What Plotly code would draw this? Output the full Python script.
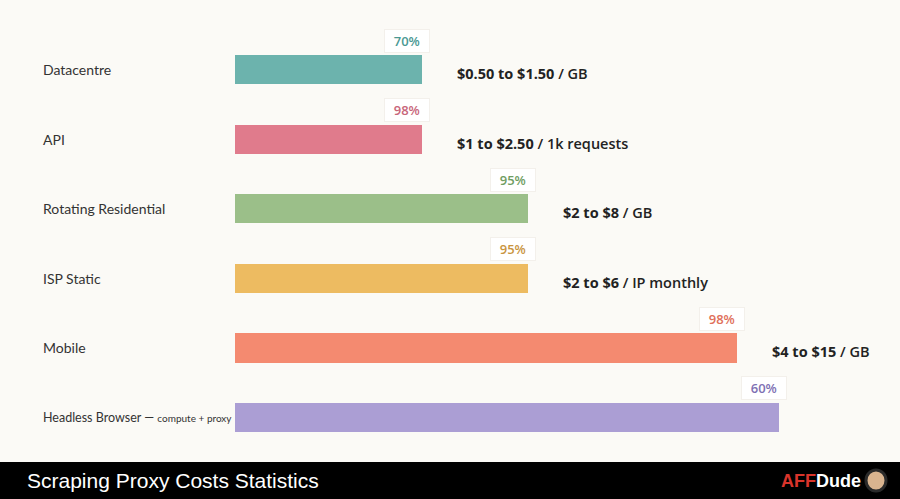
import plotly.graph_objects as go

categories = ["Datacentre", "API", "Rotating Residential", "ISP Static", "Mobile", "Headless Browser"]
label_html = ["Datacentre", "API", "Rotating Residential", "ISP Static", "Mobile",
              "<span style='font-size:12.5px'>Headless Browser — </span><span style='font-size:10px'>compute + proxy</span>"]
bar_values = [1.87, 1.87, 2.93, 2.93, 5.02, 5.44]
percents = ["70%", "98%", "95%", "95%", "98%", "60%"]
cost_main = ["$0.50 to $1.50", "$1 to $2.50", "$2 to $8", "$2 to $6", "$4 to $15", ""]
cost_unit = ["/ GB", "/ 1k requests", "/ GB", "/ IP monthly", "/ GB", ""]
bar_colors = ["#6cb3ad", "#e07b8c", "#9bbf89", "#edbb61", "#f48a70", "#ab9ed4"]
pct_colors = ["#4a9893", "#c8667a", "#6f9d62", "#c9953f", "#e0705a", "#7e70b3"]
title = "Scraping Proxy Costs Statistics"

W, H = 900, 499
ML, MB = 235, 37
plot_h = H - MB
idx = list(range(len(categories)))

fig = go.Figure()
fig.add_trace(go.Bar(
    x=bar_values, y=idx, orientation="h",
    marker=dict(color=bar_colors, line=dict(width=0)),
    width=0.42, hoverinfo="skip", showlegend=False,
))

ann = []
for i, c in enumerate(categories):
    ann.append(dict(x=(41 - ML) / (W - ML), xref="paper", y=i, yref="y",
                    text=label_html[i], showarrow=False, xanchor="left", yanchor="middle",
                    font=dict(family="Lato, Inter, sans-serif", size=14, color="#333333")))
    ann.append(dict(x=bar_values[i], xref="x", y=i, yref="y",
                    text="\u00a0\u00a0" + percents[i] + "\u00a0\u00a0",
                    showarrow=False, xanchor="center", yanchor="middle",
                    xshift=-15, yshift=29,
                    bgcolor="#ffffff", bordercolor="#f3f0eb", borderwidth=1, borderpad=2,
                    font=dict(family="Open Sans, sans-serif", size=13, weight=600,
                              color=pct_colors[i])))
    if cost_main[i]:
        ann.append(dict(x=bar_values[i], xref="x", y=i, yref="y",
                        text=f"<b>{cost_main[i]}</b> {cost_unit[i]}",
                        showarrow=False, xanchor="left", yanchor="middle",
                        xshift=33, yshift=-4,
                        font=dict(family="Open Sans, sans-serif", size=14.5, weight=600,
                                  color="#222222")))

fy = -(MB / 2) / plot_h
ann.append(dict(x=(25 - ML) / (W - ML), xref="paper", y=fy, yref="paper", text=title,
                showarrow=False, xanchor="left", yanchor="middle",
                font=dict(family="Liberation Sans, Arial, sans-serif", size=21, color="#ffffff")))
ann.append(dict(x=(863 - ML) / (W - ML), xref="paper", y=fy, yref="paper",
                text="<b><span style='color:#d9342b'>AFF</span>Dude</b>",
                showarrow=False, xanchor="right", yanchor="middle",
                font=dict(family="Liberation Sans, Arial, sans-serif", size=18, color="#ffffff")))

shapes = [
    dict(type="rect", xref="paper", yref="paper", x0=-ML / (W - ML), x1=1,
         y0=0, y1=-MB / plot_h, fillcolor="#000000", line=dict(width=0), layer="above"),
    dict(type="circle", xref="paper", yref="paper",
         x0=(866 - ML) / (W - ML), x1=(886 - ML) / (W - ML),
         y0=(plot_h - 470) / plot_h, y1=(plot_h - 491) / plot_h,
         fillcolor="#d9b48f", line=dict(color="#2a2a2a", width=3), layer="above"),
]

fig.update_layout(
    width=W, height=H,
    margin=dict(l=ML, r=0, t=0, b=MB),
    paper_bgcolor="#fbfaf6", plot_bgcolor="#fbfaf6",
    xaxis=dict(range=[0, 6.65], visible=False, fixedrange=True),
    yaxis=dict(range=[5.64, -1.0], visible=False, fixedrange=True),
    annotations=ann, shapes=shapes, bargap=0,
)
fig.write_html("out.html")
